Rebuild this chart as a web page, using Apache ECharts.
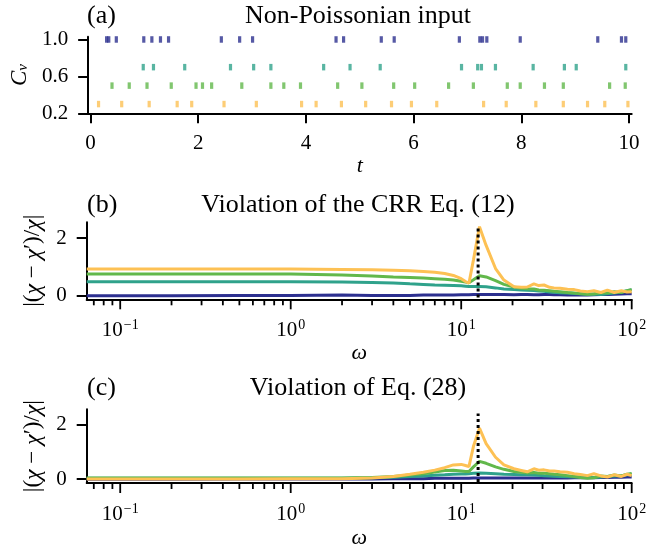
<!DOCTYPE html>
<html>
<head>
<meta charset="utf-8">
<script src="https://cdn.jsdelivr.net/npm/echarts@6/dist/echarts.min.js"></script>
<style>
    html, body { margin: 0; padding: 0; background: #fff; }
    #chart { width: 668px; height: 550px; }
</style>
</head>
<body>
<div id="chart"></div>
<script>
// Panel (a): spike times, one row per Cv value
var cvRows = [1.0, 0.7, 0.5, 0.3];
var spikesBlue = [0.30, 0.34, 0.48, 0.99, 1.14, 1.30, 1.45, 2.43, 2.77, 3.01, 4.56, 4.70, 5.40, 5.64, 6.85, 7.23, 7.28, 7.36, 7.98, 9.42, 9.86, 9.94];
var spikesTeal = [0.98, 1.17, 1.75, 2.60, 3.03, 3.35, 4.33, 4.82, 5.38, 6.89, 7.19, 7.26, 7.52, 8.22, 8.80, 9.02, 9.94];
var spikesGreen = [0.40, 0.72, 1.05, 1.50, 1.96, 2.08, 2.25, 2.81, 3.35, 3.59, 3.90, 4.59, 5.04, 5.63, 6.02, 6.65, 7.11, 7.74, 7.98, 8.43, 8.78, 9.64, 9.93];
var spikesOrange = [0.15, 0.58, 1.09, 1.61, 1.88, 2.48, 3.08, 3.92, 4.19, 4.66, 5.11, 5.59, 5.96, 6.43, 7.30, 7.72, 8.27, 8.78, 9.23, 9.55, 9.98];

// Panels (b) and (c): frequency grid and violation curves
var omega = [0.0636, 0.1, 0.2, 0.5, 1, 2, 3, 4, 5, 6, 7, 8, 9, 10, 10.6, 11.1, 11.8, 12.8, 14, 15.9, 17.8, 20.4, 22.5, 24.4, 26.7, 28.5, 30.6, 33, 35, 38, 42, 46, 50, 55, 60, 66, 72, 79, 87, 94, 100];

var crrBlue = [0.01, 0.01, 0.01, 0.02, 0.02, 0.03, 0.02, 0.02, 0.02, 0.03, 0.03, 0.03, 0.03, 0.04, 0.04, 0.04, 0.05, 0.05, 0.05, 0.05, 0.05, 0.04, 0.05, 0.05, 0.04, 0.04, 0.05, 0.05, 0.04, 0.04, 0.03, 0.03, 0.03, 0.03, 0.04, 0.05, 0.05, 0.06, 0.07, 0.08, 0.08];
var crrTeal = [0.49, 0.49, 0.49, 0.49, 0.49, 0.48, 0.47, 0.45, 0.42, 0.40, 0.38, 0.37, 0.36, 0.35, 0.34, 0.33, 0.33, 0.33, 0.32, 0.28, 0.24, 0.22, 0.21, 0.20, 0.19, 0.17, 0.16, 0.14, 0.13, 0.11, 0.10, 0.09, 0.08, 0.06, 0.07, 0.05, 0.08, 0.10, 0.14, 0.18, 0.22];
var crrGreen = [0.76, 0.76, 0.76, 0.76, 0.76, 0.73, 0.69, 0.66, 0.64, 0.62, 0.60, 0.58, 0.55, 0.51, 0.48, 0.46, 0.56, 0.70, 0.66, 0.53, 0.40, 0.31, 0.27, 0.25, 0.24, 0.21, 0.20, 0.18, 0.16, 0.15, 0.12, 0.10, 0.08, 0.06, 0.07, 0.12, 0.10, 0.15, 0.12, 0.18, 0.22];
var crrOrange = [0.93, 0.93, 0.93, 0.93, 0.93, 0.92, 0.91, 0.89, 0.87, 0.85, 0.82, 0.78, 0.71, 0.60, 0.50, 0.44, 1.25, 2.40, 1.75, 0.95, 0.55, 0.32, 0.30, 0.31, 0.42, 0.36, 0.38, 0.30, 0.28, 0.27, 0.23, 0.22, 0.17, 0.15, 0.18, 0.12, 0.20, 0.12, 0.18, 0.14, 0.15];

var eq28Blue = [0.00, 0.00, 0.00, 0.01, 0.01, 0.01, 0.01, 0.02, 0.02, 0.02, 0.03, 0.03, 0.03, 0.03, 0.03, 0.03, 0.04, 0.04, 0.04, 0.04, 0.04, 0.04, 0.04, 0.04, 0.04, 0.04, 0.04, 0.04, 0.04, 0.04, 0.04, 0.05, 0.05, 0.05, 0.05, 0.06, 0.06, 0.07, 0.07, 0.08, 0.08];
var eq28Teal = [0.03, 0.03, 0.03, 0.03, 0.03, 0.03, 0.05, 0.07, 0.10, 0.12, 0.14, 0.16, 0.18, 0.19, 0.19, 0.20, 0.22, 0.23, 0.22, 0.20, 0.18, 0.17, 0.16, 0.16, 0.15, 0.14, 0.13, 0.12, 0.11, 0.10, 0.09, 0.08, 0.08, 0.07, 0.06, 0.08, 0.10, 0.12, 0.13, 0.16, 0.18];
var eq28Green = [0.04, 0.04, 0.04, 0.04, 0.04, 0.04, 0.06, 0.10, 0.15, 0.20, 0.26, 0.32, 0.33, 0.30, 0.28, 0.28, 0.45, 0.65, 0.58, 0.45, 0.36, 0.28, 0.25, 0.23, 0.24, 0.22, 0.22, 0.20, 0.18, 0.16, 0.13, 0.10, 0.06, 0.03, 0.05, 0.12, 0.10, 0.15, 0.12, 0.18, 0.21];
var eq28Orange = [0.01, 0.01, 0.01, 0.01, 0.02, 0.02, 0.04, 0.10, 0.18, 0.25, 0.33, 0.42, 0.52, 0.54, 0.50, 0.46, 1.20, 1.86, 1.30, 0.80, 0.52, 0.38, 0.32, 0.27, 0.38, 0.33, 0.34, 0.30, 0.30, 0.27, 0.25, 0.20, 0.17, 0.13, 0.20, 0.12, 0.08, 0.16, 0.10, 0.18, 0.13];

// resonance frequency marked by the dotted line (4*pi)
var peakOmega = 12.566;
var peakTop = 2.4;

// tick positions
var tTicks = [0, 2, 4, 6, 8, 10];
var cvTicks = [0.2, 0.6, 1.0];
var violTicks = [0, 2];
var majorOmega = [0.1, 1, 10, 100];
var minorOmega = [0.07, 0.08, 0.09, 0.2, 0.3, 0.4, 0.5, 0.6, 0.7, 0.8, 0.9, 2, 3, 4, 5, 6, 7, 8, 9, 20, 30, 40, 50, 60, 70, 80, 90];

var colors = ['#2c2f8f', '#2fa28b', '#62b84b', '#fdc154'];
var serif = 'Liberation Serif';
var ink = '#000';

var chart = echarts.init(document.getElementById('chart'));

function pairs(xs, ys) {
    return xs.map(function (x, i) { return [x, ys[i]]; });
}

function spikeSeries(times, row, color) {
    return {
        type: 'scatter',
        xAxisIndex: 0,
        yAxisIndex: 0,
        symbol: 'rect',
        symbolSize: [3.2, 6.5],
        itemStyle: { color: color },
        silent: true,
        data: times.map(function (t) { return [t, row]; })
    };
}

function curve(idx, ys, color) {
    return {
        type: 'line',
        xAxisIndex: idx,
        yAxisIndex: idx,
        data: pairs(omega, ys),
        symbol: 'none',
        silent: true,
        lineStyle: { color: color, width: 3 }
    };
}

function dotted(idx, yBottom) {
    return {
        type: 'line',
        xAxisIndex: idx,
        yAxisIndex: idx,
        data: [[peakOmega, yBottom], [peakOmega, peakTop]],
        symbol: 'none',
        silent: true,
        z: 5,
        lineStyle: { color: ink, width: 3, type: [3, 3] }
    };
}

// ticks of the log axes (major and minor), drawn below the axis line
function logTicks(idx, yMin, list, len) {
    return {
        type: 'custom',
        xAxisIndex: idx,
        yAxisIndex: idx,
        silent: true,
        clip: false,
        data: list.map(function (w) { return [w, yMin]; }),
        renderItem: function (params, api) {
            var p = api.coord([api.value(0), api.value(1)]);
            return {
                type: 'line',
                shape: { x1: p[0], y1: p[1], x2: p[0], y2: p[1] + len },
                style: { stroke: ink, lineWidth: 1.8 }
            };
        }
    };
}

var lineAxis = { onZero: false, lineStyle: { color: ink, width: 2 } };

function logAxis(idx, gap) {
    return {
        type: 'log',
        gridIndex: idx,
        min: 0.0636,
        max: 100,
        axisLine: lineAxis,
        axisTick: { show: false },
        splitLine: { show: false },
        axisLabel: {
            fontFamily: serif,
            fontSize: 21,
            color: ink,
            margin: 19,
            showMinLabel: false,
            formatter: function (v) {
                var e = Math.round(Math.log10(v));
                if (Math.abs(Math.log10(v) - e) > 1e-6) return '';
                return '{b|10}{s|' + (e < 0 ? '\u2212' + (-e) : e) + '}';
            },
            rich: {
                b: { fontFamily: serif, fontSize: 21, color: ink, verticalAlign: 'bottom' },
                s: { fontFamily: serif, fontSize: 14, color: ink, verticalAlign: 'bottom', padding: [0, 0, 9, 1] }
            }
        },
        name: '\u03c9',
        nameLocation: 'middle',
        nameGap: gap,
        nameTextStyle: { fontFamily: serif, fontSize: 22, fontStyle: 'italic', color: ink }
    };
}

function violAxis(idx, min) {
    return {
        type: 'value',
        gridIndex: idx,
        min: min,
        max: 2.55,
        axisLine: lineAxis,
        axisTick: { length: 10, lineStyle: { color: ink, width: 2 }, customValues: violTicks },
        axisLabel: { fontFamily: serif, fontSize: 21, color: ink, margin: 20, customValues: violTicks },
        splitLine: { show: false },
        name: '|({i|\u03c7} \u2212 {i|\u03c7}\u2032)/{i|\u03c7}|',
        nameLocation: 'middle',
        nameRotate: 90,
        nameGap: 36,
        nameTextStyle: {
            fontFamily: serif, fontSize: 23, color: ink,
            rich: { i: { fontFamily: serif, fontSize: 24, fontStyle: 'italic', color: ink } }
        }
    };
}

function titleText(text, left, top, align) {
    return {
        text: text,
        left: left,
        top: top,
        padding: 0,
        textAlign: align,
        textStyle: { fontFamily: serif, fontSize: 26, fontWeight: 'normal', color: ink }
    };
}

var option = {
    backgroundColor: '#fff',
    animation: false,
    title: [
        titleText('(a)', 87, 3, 'left'),
        titleText('Non-Poissonian input', 358, 3, 'center'),
        titleText('(b)', 87, 192, 'left'),
        titleText('Violation of the CRR Eq. (12)', 358, 192, 'center'),
        titleText('(c)', 87, 375, 'left'),
        titleText('Violation of Eq. (28)', 358, 375, 'center')
    ],
    grid: [
        { left: 86.7, top: 36.7, width: 545, height: 76.6 },
        { left: 86.7, top: 222.3, width: 545, height: 77 },
        { left: 86.7, top: 409.3, width: 545, height: 77.4 }
    ],
    xAxis: [
        {
            type: 'value',
            gridIndex: 0,
            min: -0.043,
            max: 10.05,
            axisLine: lineAxis,
            axisTick: { length: 10, lineStyle: { color: ink, width: 2 }, customValues: tTicks },
            axisLabel: { fontFamily: serif, fontSize: 21, color: ink, margin: 20, customValues: tTicks },
            splitLine: { show: false },
            name: 't',
            nameLocation: 'middle',
            nameGap: 38,
            nameTextStyle: { fontFamily: serif, fontSize: 22, fontStyle: 'italic', color: ink }
        },
        logAxis(1, 42),
        logAxis(2, 44)
    ],
    yAxis: [
        {
            type: 'value',
            gridIndex: 0,
            min: 0.2,
            max: 1.03,
            axisLine: lineAxis,
            axisTick: { length: 10, lineStyle: { color: ink, width: 2 }, customValues: cvTicks },
            axisLabel: {
                fontFamily: serif, fontSize: 21, color: ink, margin: 20, customValues: cvTicks,
                formatter: function (v) { return v.toFixed(1); }
            },
            splitLine: { show: false },
            name: '{i|C}{s|v}',
            nameLocation: 'middle',
            nameRotate: 90,
            nameGap: 55,
            nameTextStyle: {
                fontFamily: serif, fontSize: 22, color: ink,
                rich: {
                    i: { fontFamily: serif, fontSize: 23, fontStyle: 'italic', color: ink, verticalAlign: 'bottom' },
                    s: { fontFamily: serif, fontSize: 15, fontStyle: 'italic', color: ink, verticalAlign: 'bottom' }
                }
            }
        },
        violAxis(1, -0.115),
        violAxis(2, -0.139)
    ],
    series: [
        spikeSeries(spikesBlue, cvRows[0], colors[0]),
        spikeSeries(spikesTeal, cvRows[1], colors[1]),
        spikeSeries(spikesGreen, cvRows[2], colors[2]),
        spikeSeries(spikesOrange, cvRows[3], colors[3]),

        curve(1, crrBlue, colors[0]),
        curve(1, crrTeal, colors[1]),
        curve(1, crrGreen, colors[2]),
        curve(1, crrOrange, colors[3]),
        dotted(1, -0.05),
        logTicks(1, -0.115, majorOmega, 10),
        logTicks(1, -0.115, minorOmega, 6),

        curve(2, eq28Blue, colors[0]),
        curve(2, eq28Teal, colors[1]),
        curve(2, eq28Green, colors[2]),
        curve(2, eq28Orange, colors[3]),
        dotted(2, -0.1),
        logTicks(2, -0.139, majorOmega, 10),
        logTicks(2, -0.139, minorOmega, 6)
    ]
};

chart.setOption(option);

window.addEventListener('resize', function () {
    chart.resize();
});
</script>
</body>
</html>
